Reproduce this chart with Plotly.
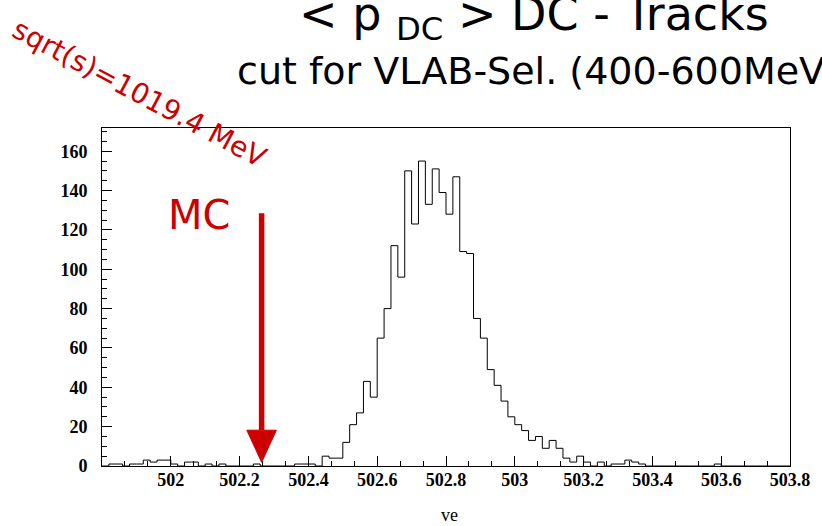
import numpy as np
import plotly.graph_objects as go

# Histogram of the mean DC momentum (MeV), 100 bins of 0.02 between 501.8 and 503.8
bin_low = 501.8
bin_high = 503.8
counts = [
    0, 1, 1, 0, 1, 1, 3, 2, 3, 3,
    1, 0, 2, 2, 0, 1, 0, 1, 0, 0,
    0, 0, 1, 0, 0, 0, 0, 0, 1, 1,
    1, 0, 5, 4, 4, 12, 21, 27, 43, 35,
    65, 80, 112, 96, 150, 123, 155, 133, 151, 139,
    128, 147, 109, 108, 75, 65, 49, 41, 33, 25,
    21, 18, 13, 15, 9, 13, 9, 4, 2, 5,
    2, 0, 2, 0, 1, 1, 3, 2, 1, 0,
    0, 0, 0, 0, 0, 0, 0, 0, 0, 1,
    0, 0, 0, 0, 0, 0, 0, 0, 0, 0,
]
x_ticks = [502.0, 502.2, 502.4, 502.6, 502.8, 503.0, 503.2, 503.4, 503.6, 503.8]
x_tick_text = ["502", "502.2", "502.4", "502.6", "502.8", "503", "503.2", "503.4", "503.6", "503.8"]
y_ticks = [0, 20, 40, 60, 80, 100, 120, 140, 160]
y_max = 171.8

# nominal MC value marked with the arrow
mc_value = 502.264
arrow_top, arrow_head_base, arrow_tip = 128.5, 18.2, 1.9
arrow_half_width = 0.043

edges = np.linspace(bin_low, bin_high, len(counts) + 1)
step_y = counts + [counts[-1]]

RED = "#cc0000"

fig = go.Figure()
fig.add_trace(go.Scatter(
    x=edges, y=step_y, mode="lines", line_shape="hv",
    line=dict(color="black", width=1), hoverinfo="skip", showlegend=False,
))

# red arrow pointing at the MC value
fig.add_shape(type="line", xref="x", yref="y",
              x0=mc_value, x1=mc_value, y0=arrow_top, y1=arrow_head_base,
              line=dict(color=RED, width=5.5))
fig.add_shape(type="path", xref="x", yref="y",
              path=(f"M {mc_value - arrow_half_width},{arrow_head_base} "
                    f"L {mc_value + arrow_half_width},{arrow_head_base} "
                    f"L {mc_value},{arrow_tip} Z"),
              fillcolor=RED, line=dict(color=RED, width=1))

L, R, T, B = 102, 22, 128, 60
W, H = 822, 526
PW, PH = W - L - R, H - T - B


def px(xp):
    return (xp - L) / PW


def py(yp):
    return (H - B - yp) / PH


annotations = [
    dict(text="< p <sub>DC</sub> > DC - Tracks", x=px(300), y=py(17),
         xanchor="left", yanchor="middle",
         font=dict(family="DejaVu Sans", size=46, color="black")),
    dict(text="cut for VLAB-Sel. (400-600MeV)", x=px(237), y=py(71),
         xanchor="left", yanchor="middle",
         font=dict(family="DejaVu Sans", size=38, color="black")),
    dict(text="sqrt(s)=1019.4 MeV", x=px(140), y=py(94), textangle=28,
         xanchor="center", yanchor="middle",
         font=dict(family="DejaVu Sans", size=28, color=RED)),
    dict(text="MC", x=px(200), y=py(215), xanchor="center", yanchor="middle",
         font=dict(family="DejaVu Sans", size=40, color=RED)),
    dict(text="ve", x=px(455), y=py(515), xanchor="center", yanchor="middle",
         font=dict(family="Liberation Serif", size=18, color="black")),
]
for a in annotations:
    a.update(xref="paper", yref="paper", showarrow=False)

tick_font = dict(family="Liberation Serif", size=18, color="black", weight="bold")

fig.update_layout(
    width=W, height=H,
    margin=dict(l=L, r=R, t=T, b=B, pad=0),
    paper_bgcolor="white", plot_bgcolor="white",
    annotations=annotations,
    xaxis=dict(
        range=[bin_low, bin_high], tickmode="array", tickvals=x_ticks, ticktext=x_tick_text,
        ticks="inside", ticklen=10, tickwidth=1, tickcolor="black",
        minor=dict(ticks="inside", ticklen=5, tickcolor="black", tick0=502.0, dtick=0.2 / 3),
        showline=True, linecolor="black", linewidth=1, mirror=True,
        showgrid=False, zeroline=False, tickfont=tick_font, ticklabelstandoff=-3,
    ),
    yaxis=dict(
        range=[0, y_max], tickmode="array", tickvals=y_ticks,
        ticks="inside", ticklen=10, tickwidth=1, tickcolor="black",
        minor=dict(ticks="inside", ticklen=5, tickcolor="black", tick0=0, dtick=5),
        showline=True, linecolor="black", linewidth=1, mirror=True,
        showgrid=False, zeroline=False, tickfont=tick_font, ticklabelstandoff=10,
    ),
)

fig.write_html("out.html")
